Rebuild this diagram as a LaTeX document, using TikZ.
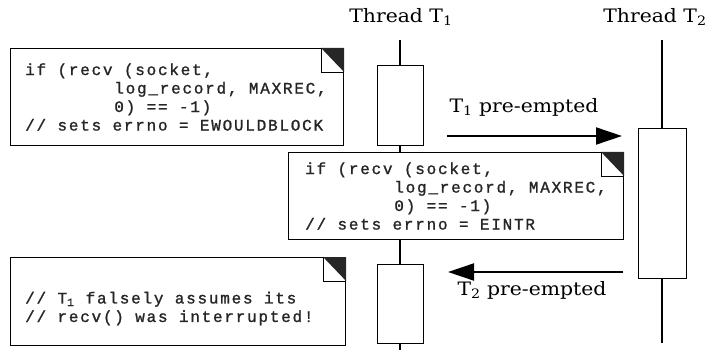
\documentclass[tikz,border=0pt]{standalone}
\usepackage{fontspec}
\setmainfont[FakeStretch=1.1]{DejaVu Serif}
\newfontfamily\codefont[LetterSpace=11,FakeBold=1.2]{Liberation Mono}
\usetikzlibrary{arrows.meta,calc}
\begin{document}
\begin{tikzpicture}[x=1pt,y=-1pt,
  codebox/.style={draw, line width=1.1pt, fill=white, inner sep=0, anchor=north west},
  codetext/.style={font=\codefont\fontsize{16}{18.5}\selectfont, align=left, anchor=west, inner sep=0, text=black!85},
  actbox/.style={draw, line width=1.1pt, fill=white, inner sep=0, anchor=north west},
  life/.style={line width=1.1pt},
  msg/.style={line width=2pt, -{Triangle[length=26pt,width=17pt]}},
  lbl/.style={font=\fontsize{18.5}{22}\selectfont, inner sep=0},
  fold/.style={line width=0.8pt}
]
\useasboundingbox (0,0) rectangle (707,350);

% lifelines
\coordinate (l1top) at (400,40);
\coordinate (l1bot) at (400,350);
\coordinate (l2top) at (662,40);
\coordinate (l2bot) at (662,343);
\draw[life] (l1top) -- (l1bot);
\draw[life] (l2top) -- (l2bot);

% thread labels
\node[lbl] (th1) at (401,17) {Thread T\textsubscript{1}};
\node[lbl] (th2) at (655,17) {Thread T\textsubscript{2}};

% activation boxes
\node[actbox, minimum width=46, minimum height=80] (a1) at (377,65) {};
\node[actbox, minimum width=46, minimum height=79] (a2) at (377,264) {};
\node[actbox, minimum width=48, minimum height=150] (b1) at (638,128) {};

% code boxes
\node[codebox, minimum width=333, minimum height=97] (c1) at (10,48) {};
\node[codebox, minimum width=335, minimum height=87] (c2) at (288,152) {};
\node[codebox, minimum width=335, minimum height=88] (c3) at (10,257) {};

\foreach \c in {c1,c2,c3}{
  \fill[black!85] (\c.north east) -- ++(-23,0) -- ++(23,24) -- cycle;
  \draw[fold] ($(\c.north east)+(-23,0)$) -- ++(0,24) -- ++(23,0);
}

\node[codetext] (c1t) at ([xshift=15pt]c1.west) {if (recv (socket,\\
\phantom{xxxxxxxx}log\_record, MAXREC,\\
\phantom{xxxxxxxx}0) == -1)\\
// sets errno = EWOULDBLOCK};

\node[codetext] (c2t) at ([xshift=17pt]c2.west) {if (recv (socket,\\
\phantom{xxxxxxxx}log\_record, MAXREC,\\
\phantom{xxxxxxxx}0) == -1)\\
// sets errno = EINTR};

\node[codetext] (c3t) at ([xshift=15pt,yshift=-7pt]c3.west) {// T\textsubscript{1} falsely assumes its\\
// recv() was interrupted!};

% messages
\coordinate (m1s) at (447,136);
\coordinate (m1e) at (622,136);
\coordinate (m2s) at (623,272);
\coordinate (m2e) at (448,272);
\draw[msg] (m1s) -- (m1e);
\draw[msg] (m2s) -- (m2e);
\node[lbl] (m1l) at (524,107) {T\textsubscript{1} pre-empted};
\node[lbl] (m2l) at (532,290) {T\textsubscript{2} pre-empted};
\end{tikzpicture}
\end{document}
